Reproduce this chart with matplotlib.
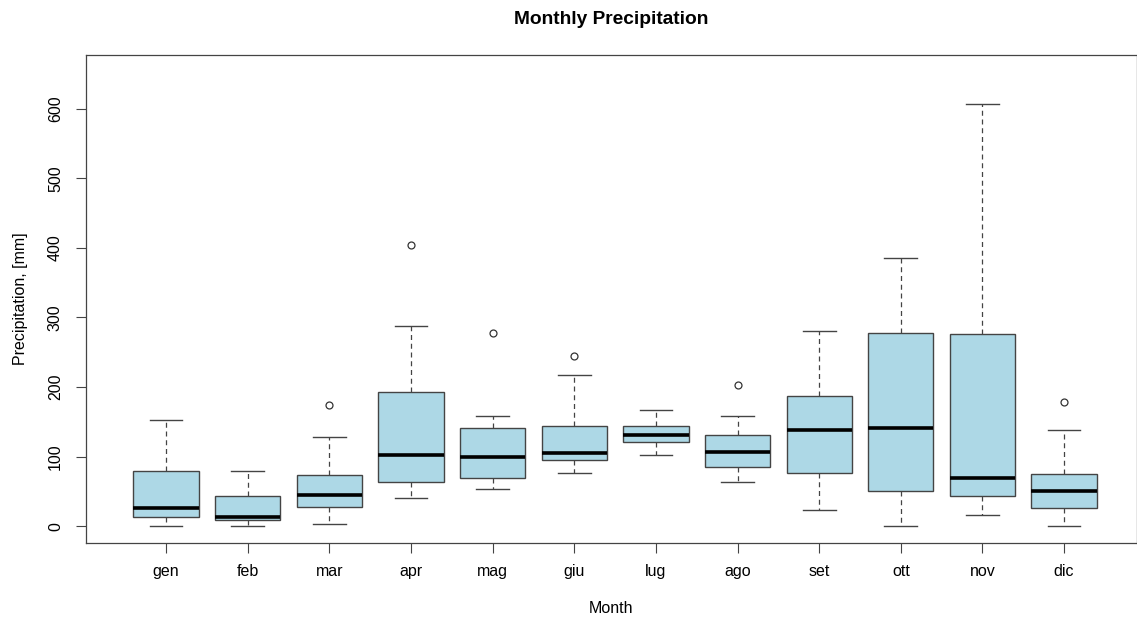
import matplotlib
matplotlib.use("Agg")
import matplotlib.pyplot as plt

months = ["gen", "feb", "mar", "apr", "mag", "giu", "lug", "ago", "set", "ott", "nov", "dic"]
whisker_low = [0, 0, 3, 41, 54, 76, 102, 64, 24, 0, 16, 0]
q1 = [14, 9, 27, 64, 69, 95, 121, 85, 76, 50, 44, 26]
median = [26, 13, 45, 102, 100, 105, 131, 107, 138, 141, 70, 51]
q3 = [80, 43, 73, 193, 141, 144, 144, 131, 187, 278, 276, 75]
whisker_high = [153, 79, 128, 288, 159, 218, 167, 159, 280, 386, 606, 139]
outliers = [[], [], [174], [404], [277], [245], [], [203], [], [], [], [178]]
yticks = [0, 100, 200, 300, 400, 500, 600]

plt.rcParams['font.family'] = ['Liberation Sans', 'DejaVu Sans']

fig = plt.figure(figsize=(11.37, 6.2), dpi=100)
W, H = 1137, 620
ax = fig.add_axes([86 / W, 1 - 543 / H, (W - 86) / W, (543 - 55) / H])

stats = []
for i, m in enumerate(months):
    stats.append(dict(label=m, whislo=whisker_low[i], q1=q1[i], med=median[i],
                      q3=q3[i], whishi=whisker_high[i], fliers=outliers[i]))

ax.bxp(stats, positions=range(1, 13), widths=0.8, patch_artist=True,
       boxprops=dict(facecolor="#ADD8E6", edgecolor="#444444", linewidth=1.0),
       medianprops=dict(color="black", linewidth=2.6, solid_capstyle="butt"),
       whiskerprops=dict(color="#444444", linestyle=(0, (4, 3)), linewidth=0.9),
       capprops=dict(color="#444444", linewidth=1.0),
       capwidths=0.4,
       flierprops=dict(marker="o", markerfacecolor="none", markeredgecolor="#333333",
                       markersize=5, markeredgewidth=0.9))

ax.set_xlim(0.02, 1 + (W - 165) / 81.73)
ax.set_ylim(-24, 677)
ax.set_xticks(range(1, 13))
ax.set_xticklabels(months, fontsize=11.5)
ax.set_yticks(yticks)
ax.set_yticklabels([str(v) for v in yticks], fontsize=11.5, rotation=90, va="center")
ax.tick_params(axis="both", length=7.2, width=0.8, color="#444444")
ax.tick_params(axis="x", pad=8)
ax.tick_params(axis="y", pad=9.4)
for s in ax.spines.values():
    s.set_color("#444444")
    s.set_linewidth(0.9)

ax.set_xlabel("Month", fontsize=11.5, labelpad=16)
ax.set_ylabel("Precipitation, [mm]", fontsize=11.5, labelpad=14)
fig.text((86 + W) / 2 / W, 1 - 20 / H, "Monthly Precipitation", ha="center", va="center",
         fontsize=13.8, fontweight="bold")

fig.savefig("out.png", dpi=100)
